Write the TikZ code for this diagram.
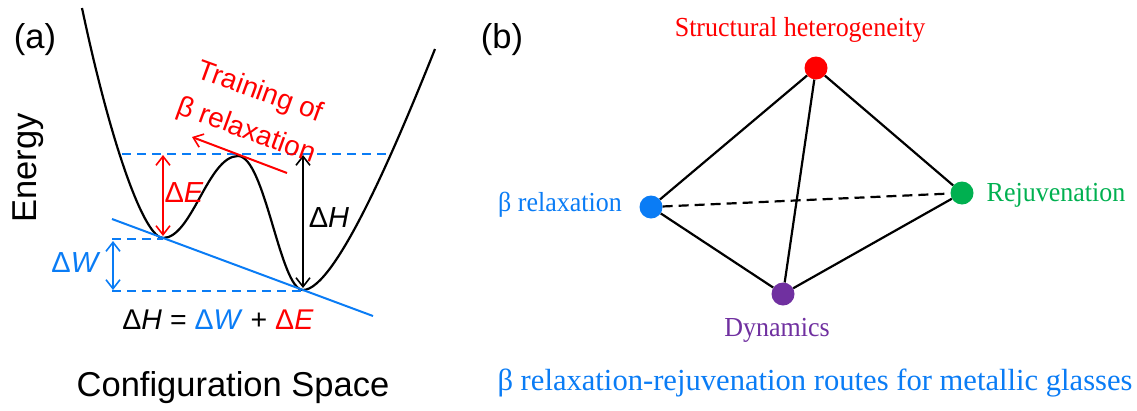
\documentclass[tikz,border=0pt]{standalone}
\usepackage{fontspec}
\setmainfont{Liberation Serif}
\newfontfamily\arialf{Liberation Sans}
\usetikzlibrary{arrows.meta}
\definecolor{myred}{RGB}{255,0,0}
\definecolor{myblue}{RGB}{10,124,245}
\definecolor{mygreen}{RGB}{0,176,80}
\definecolor{mypurple}{RGB}{112,48,160}
\begin{document}
\begin{tikzpicture}[x=1pt,y=-1pt,
  curve/.style={line width=2.2pt},
  bdash/.style={myblue,line width=2pt,dash pattern=on 9pt off 6pt},
  barb/.tip={Straight Barb[length=9pt,width=14pt,line width=1.6pt]},
  dbl/.style={line width=2pt,barb-barb},
  sanslbl/.style={font=\arialf\fontsize{29}{34}\selectfont},
  big/.style={font=\arialf\fontsize{34.5}{40}\selectfont},
  vert/.style={circle,inner sep=0pt,minimum size=23pt},
  edge/.style={line width=2.2pt},
  serif/.style={font=\fontsize{27.5}{32}\selectfont,xscale=0.945},
]
\useasboundingbox (0,0) rectangle (1137,410);
% panel (a)
\node[big] (la) at (35,40) {(a)};
\node[big,rotate=90] (energy) at (28,168) {Energy};
\node[big] (cs) at (233,388) {Configuration Space};

\coordinate (ctop) at (82,8);
\coordinate (lmin) at (163,238);
\coordinate (peak) at (238,156);
\coordinate (rmin) at (303,290);
\coordinate (cend) at (435,49);
\draw[curve] (ctop) .. controls (112,150) and (145,238) .. (lmin)
  .. controls (192,238) and (208,156) .. (peak)
  .. controls (265,156) and (280,290) .. (rmin)
  .. controls (335,290) and (395,149) .. (cend);

\coordinate (dl) at (122,154);
\coordinate (dr) at (390,154);
\draw[bdash] (dl) -- (dr);

\coordinate (t1) at (112,219);
\coordinate (t2) at (373,316);
\draw[myblue,line width=2pt] (t1) -- (t2);

\coordinate (w1) at (112,239);
\coordinate (w1e) at (163,239);
\coordinate (w2) at (112,291);
\coordinate (w2e) at (303,291);
\draw[bdash] (w1) -- (w1e);
\draw[bdash] (w2) -- (w2e);

\coordinate (wa) at (113,241);
\coordinate (wb) at (113,290);
\draw[dbl,myblue] (wa) -- (wb);

\coordinate (ea) at (163,155);
\coordinate (eb) at (163,236);
\draw[dbl,myred] (ea) -- (eb);

\coordinate (ha) at (303,155);
\coordinate (hb) at (303,288);
\draw[dbl] (ha) -- (hb);

\node[sanslbl,myred] (dE) at (184,193) {Δ\textit{E}};
\node[sanslbl] (dH) at (329,218) {Δ\textit{H}};
\node[sanslbl,myblue] (dW) at (76,263) {Δ\textit{W}};
\node[font=\arialf\fontsize{28.5}{34}\selectfont] (eq) at (218,320) {Δ\textit{H} = \textcolor{myblue}{Δ\textit{W}} + \textcolor{myred}{Δ\textit{E}}};

\node[font=\arialf\fontsize{28}{41}\selectfont,myred,rotate=-20,align=center] (train) at (253,112) {Training of\\β relaxation};
\coordinate (ra1) at (287,173);
\coordinate (ra2) at (192,137);
\draw[myred,line width=2pt,-barb] (ra1) -- (ra2);

% panel (b)
\node[big] (lb) at (502,40) {(b)};
\node[vert,fill=myred] (S) at (816,68) {};
\node[vert,fill=myblue] (B) at (651,207) {};
\node[vert,fill=mygreen] (R) at (962,193) {};
\node[vert,fill=mypurple] (D) at (783,294) {};
\draw[edge] (S) -- (B);
\draw[edge] (S) -- (R);
\draw[edge] (S) -- (D);
\draw[edge] (B) -- (D);
\draw[edge] (R) -- (D);
\draw[edge,dash pattern=on 10pt off 6pt] (B) -- (R);

\node[serif,myred] (Sl) at (800,30) {Structural heterogeneity};
\node[serif,myblue] (Bl) at (560,205) {β relaxation};
\node[serif,mygreen] (Rl) at (1056,195) {Rejuvenation};
\node[serif,mypurple] (Dl) at (777,330) {Dynamics};
\node[font=\fontsize{30.6}{35}\selectfont,myblue] (title) at (815,383) {β relaxation-rejuvenation routes for metallic glasses};
\end{tikzpicture}
\end{document}
